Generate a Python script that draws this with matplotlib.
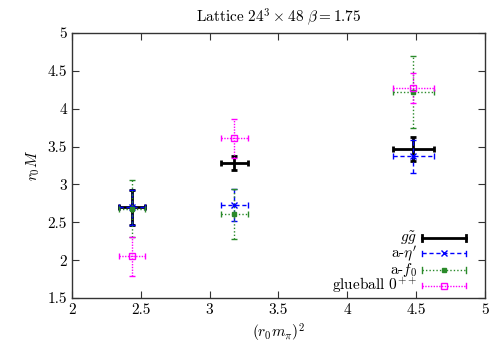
import matplotlib
matplotlib.use("Agg")
import matplotlib.pyplot as plt
from matplotlib.lines import Line2D

plt.rcParams['font.family'] = 'serif'
plt.rcParams['font.serif'] = ['cmr10', 'DejaVu Serif']
plt.rcParams['mathtext.fontset'] = 'cm'
plt.rcParams['axes.formatter.use_mathtext'] = True

# data
x_gg = [2.435, 3.18, 4.48]
xerr_gg = [0.095, 0.095, 0.15]
y_gg = [2.70, 3.28, 3.47]
yerr_gg = [0.23, 0.09, 0.16]

x_eta = [2.435, 3.18, 4.48]
xerr_eta = [0.095, 0.095, 0.15]
y_eta = [2.70, 2.73, 3.37]
yerr_eta = [0.23, 0.21, 0.22]

x_f0 = [2.435, 3.18, 4.48]
xerr_f0 = [0.095, 0.095, 0.15]
y_f0 = [2.68, 2.61, 4.22]
yerr_f0 = [0.38, 0.33, 0.47]

x_gb = [2.435, 3.18, 4.48]
xerr_gb = [0.095, 0.095, 0.15]
y_gb = [2.05, 3.61, 4.27]
yerr_gb = [0.26, 0.26, 0.20]

labels = [r'$g\tilde{g}$', r"a-$\eta'$", r'a-$f_0$', r'glueball $0^{++}$']
xticks = [2, 2.5, 3, 3.5, 4, 4.5, 5]
yticks = [1.5, 2, 2.5, 3, 3.5, 4, 4.5, 5]

c_gg, c_eta, c_f0, c_gb = 'black', '#0000ff', '#2a8a2a', '#ff00ff'

fig = plt.figure(figsize=(4.91, 3.46), dpi=100)
ax = fig.add_axes([0.1466, 0.1387, 0.8412, 0.7659])

series = [
    (x_gg, y_gg, xerr_gg, yerr_gg, c_gg, '-', 2.0, 'none', 0, 'none'),
    (x_eta, y_eta, xerr_eta, yerr_eta, c_eta, (0, (3, 2)), 1.0, 'x', 4, c_eta),
    (x_f0, y_f0, xerr_f0, yerr_f0, c_f0, (0, (1, 1.5)), 1.0, 's', 3.5, c_f0),
    (x_gb, y_gb, xerr_gb, yerr_gb, c_gb, (0, (1, 1)), 1.0, 's', 5, 'none'),
]
for x, y, xe, ye, c, ls, lw, m, ms, mfc in series:
    eb = ax.errorbar(x, y, xerr=xe, yerr=ye, fmt='none', ecolor=c,
                     elinewidth=lw, capsize=2.5,
                     capthick=lw, zorder=2)
    for lc in eb[2]:
        lc.set_linestyle(ls)
    if m != 'none':
        ax.plot(x, y, linestyle='none', marker=m, ms=ms, color=c,
                mfc=mfc, mec=c, mew=1.0, zorder=3)

ax.set_xlim(2, 5)
ax.set_ylim(1.5, 5)
ax.set_xticks(xticks)
ax.set_yticks(yticks)
ax.set_xticklabels([f'{t:g}' for t in xticks])
ax.set_yticklabels([f'{t:g}' for t in yticks])
ax.tick_params(direction='in', top=True, right=True, length=5, labelsize=11,
               colors='#333333', labelcolor='black')
for s in ax.spines.values():
    s.set_color('#333333')
    s.set_linewidth(1.0)

ax.set_xlabel(r'$(r_0m_\pi)^2$', fontsize=11)
ax.set_ylabel(r'$r_0M$', fontsize=11)
ax.set_title(r'Lattice $24^3\times48\ \beta=1.75$', fontsize=11, pad=8)

# legend (manual, gnuplot style)
ys_leg = [0.226, 0.168, 0.106, 0.047]
styles = [(c_gg, '-', 2.0, 'none', 0, 'none'),
          (c_eta, (0, (3, 2)), 1.0, 'x', 4, c_eta),
          (c_f0, (0, (1, 1.5)), 1.0, 's', 3.5, c_f0),
          (c_gb, (0, (1, 1)), 1.0, 's', 5, 'none')]
x0, x1 = 0.847, 0.954
for yl, lab, (c, ls, lw, m, ms, mfc) in zip(ys_leg, labels, styles):
    ax.text(0.835, yl, lab, transform=ax.transAxes, ha='right', va='center',
            fontsize=11)
    ax.add_line(Line2D([x0, x1], [yl, yl], transform=ax.transAxes, color=c,
                       ls=ls, lw=lw))
    for xc in (x0, x1):
        ax.add_line(Line2D([xc, xc], [yl - 0.01, yl + 0.01],
                           transform=ax.transAxes, color=c, lw=lw))
    if m != 'none':
        ax.add_line(Line2D([(x0 + x1) / 2], [yl], transform=ax.transAxes,
                           marker=m, ms=ms, color=c, mfc=mfc, mec=c, ls='none'))

fig.savefig('out.png', dpi=100)
